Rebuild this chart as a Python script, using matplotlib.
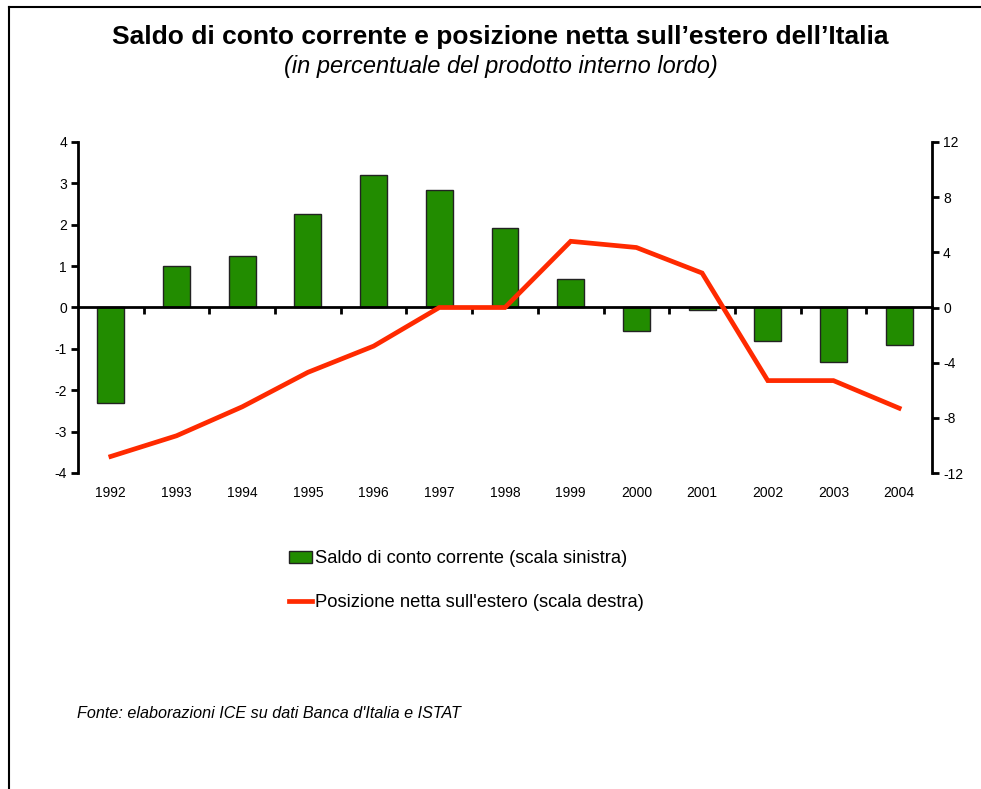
import matplotlib
matplotlib.use("Agg")
import matplotlib.pyplot as plt
from matplotlib.lines import Line2D
from matplotlib.patches import Patch
import matplotlib.transforms as mtransforms

plt.rcParams['font.family'] = ['Liberation Sans', 'DejaVu Sans']
plt.rcParams['axes.unicode_minus'] = False

years = ['1992', '1993', '1994', '1995', '1996', '1997', '1998', '1999',
         '2000', '2001', '2002', '2003', '2004']
saldo = [-2.32, 1.0, 1.25, 2.26, 3.2, 2.84, 1.92, 0.7, -0.56, -0.05, -0.8, -1.32, -0.9]
posizione = [-10.8, -9.3, -7.2, -4.7, -2.8, 0.0, 0.0, 4.8, 4.35, 2.5, -5.3, -5.3, -7.3]

title = "Saldo di conto corrente e posizione netta sull\u2019estero dell\u2019Italia"
subtitle = "(in percentuale del prodotto interno lordo)"
label_bar = "Saldo di conto corrente (scala sinistra)"
label_line = "Posizione netta sull'estero (scala destra)"
source = "Fonte: elaborazioni ICE su dati Banca d'Italia e ISTAT"

W, H = 981, 789
fig = plt.figure(figsize=(W / 100, H / 100), dpi=100)
ax = fig.add_axes([78 / W, 1 - 473 / H, (932 - 78) / W, (473 - 142) / H])
ax2 = ax.twinx()

x = list(range(len(years)))
bar_color = '#228C00'
line_color = '#FF2A00'

ax.bar(x, saldo, width=0.41, color=bar_color, edgecolor='#222222', linewidth=1.0, zorder=2)
ax2.plot(x, posizione, color=line_color, linewidth=3.4, solid_joinstyle='miter', zorder=3)

ax.set_xlim(-0.5, len(years) - 0.5)
ax.set_ylim(-4, 4)
ax2.set_ylim(-12, 12)
ax.set_yticks(range(-4, 5))
ax2.set_yticks(range(-12, 13, 4))

for a in (ax, ax2):
    a.spines['top'].set_visible(False)
    a.patch.set_visible(False)
ax.spines['right'].set_visible(False)
ax2.spines['left'].set_visible(False)
ax2.spines['bottom'].set_visible(False)
ax.spines['bottom'].set_position(('data', 0))
for s in ('left', 'bottom'):
    ax.spines[s].set_linewidth(2.0)
ax2.spines['right'].set_linewidth(2.0)

ax.set_xticks([i + 0.5 for i in range(len(years) - 1)])
ax.set_xticklabels([])
ax.tick_params(axis='x', direction='out', length=5, width=2)
ax.tick_params(axis='y', direction='out', length=5, width=2, labelsize=10, pad=3)
ax2.tick_params(axis='y', direction='out', length=5, width=2, labelsize=10, pad=3)

trans = mtransforms.blended_transform_factory(ax.transData, ax.transAxes)
for i, yr in enumerate(years):
    ax.text(i, -0.06, yr, transform=trans, ha='center', va='center', fontsize=10)

ax2.set_zorder(ax.get_zorder() + 1)

fig.text(500 / W, 1 - 37 / H, title, ha='center', va='center', fontsize=19, fontweight='bold')
fig.text(501 / W, 1 - 66 / H, subtitle, ha='center', va='center', fontsize=17, style='italic')

handles = [Patch(facecolor=bar_color, edgecolor='#222222', linewidth=1.0),
           Line2D([0], [0], color=line_color, linewidth=3.4)]
fig.legend(handles, [label_bar, label_line], loc='upper left',
           bbox_to_anchor=(282 / W, 1 - 543 / H), frameon=False, fontsize=13.2,
           handlelength=1.26, handleheight=0.6, handletextpad=0.15, labelspacing=1.45,
           borderaxespad=0)

fig.text(77 / W, 1 - 713 / H, source, ha='left', va='center', fontsize=11.6, style='italic')

fig.add_artist(Line2D([9 / W, 9 / W], [0, 1 - 7 / H], transform=fig.transFigure, color='black', linewidth=1.5))
fig.add_artist(Line2D([9 / W, 1], [1 - 7 / H, 1 - 7 / H], transform=fig.transFigure, color='black', linewidth=1.5))

fig.savefig('out.png', dpi=100)
